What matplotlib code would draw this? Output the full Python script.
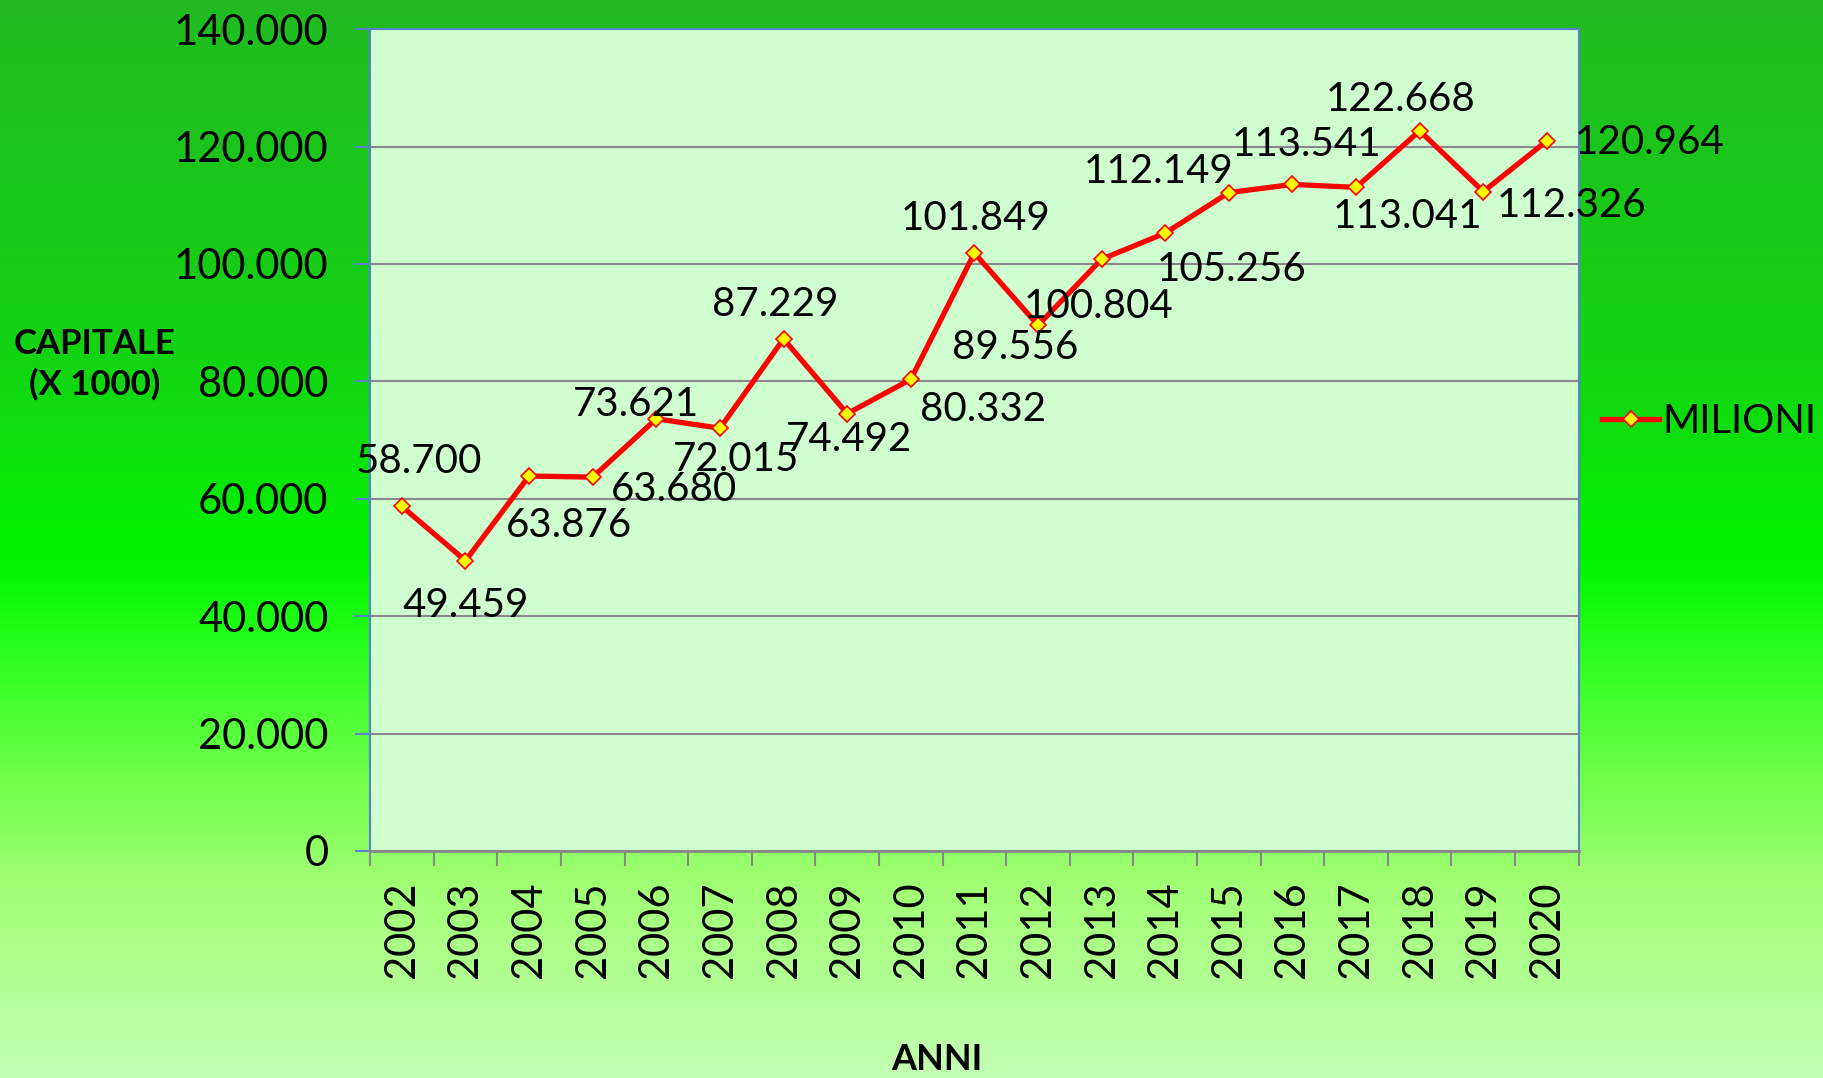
import numpy as np
import matplotlib
matplotlib.use("Agg")
import matplotlib.pyplot as plt
from matplotlib.colors import LinearSegmentedColormap

plt.rcParams["font.family"] = ["Lato", "DejaVu Sans"]

# =========================
# dati
# =========================
anni = ["2002", "2003", "2004", "2005", "2006", "2007", "2008", "2009", "2010", "2011",
        "2012", "2013", "2014", "2015", "2016", "2017", "2018", "2019", "2020"]
milioni = [58.700, 49.459, 63.876, 63.680, 73.621, 72.015, 87.229, 74.492, 80.332, 101.849,
           89.556, 100.804, 105.256, 112.149, 113.541, 113.041, 122.668, 112.326, 120.964]
etichette = ["58.700", "49.459", "63.876", "63.680", "73.621", "72.015", "87.229", "74.492",
             "80.332", "101.849", "89.556", "100.804", "105.256", "112.149", "113.541",
             "113.041", "122.668", "112.326", "120.964"]
y_ticks = [0, 20, 40, 60, 80, 100, 120, 140]
y_tick_labels = ["0", "20.000", "40.000", "60.000", "80.000", "100.000", "120.000", "140.000"]

# spostamento delle etichette (pixel)
offsets = [(17, 45), (0, -45), (40, -50), (81, -12), (-20, 14), (16, -31), (-8, 34),
           (2, -26), (72, -30), (1, 35), (-23, -22), (-3, -47), (66, -36), (-70, 21),
           (14, 40), (51, -29), (-19, 31), (88, -14), (103, -2)]

fig = plt.figure(figsize=(18.23, 10.78), dpi=100)

# sfondo sfumato
bg = fig.add_axes([0, 0, 1, 1], zorder=-10)
stops = [(0.0, (34, 187, 34)), (0.3, (20, 208, 20)), (0.42, (12, 225, 12)),
         (0.52, (0, 245, 0)), (0.6, (40, 255, 30)), (0.74, (120, 255, 80)),
         (0.82, (160, 255, 115)), (1.0, (195, 255, 180))]
cmap = LinearSegmentedColormap.from_list("bg", [(p, tuple(c / 255 for c in col)) for p, col in stops])
bg.imshow(np.linspace(0, 1, 256).reshape(-1, 1), aspect="auto", cmap=cmap, extent=[0, 1, 0, 1])
bg.axis("off")

ax = fig.add_axes([0.203, 0.2106, 0.663, 0.7624])
ax.set_facecolor("#CFFFCF")

x = np.arange(len(anni))
ax.plot(x, milioni, color="#FF0000", lw=3.8, marker="D", ms=8.5,
        markerfacecolor="#FFFF00", markeredgecolor="#FF0000", markeredgewidth=1.2,
        label="MILIONI", zorder=3, solid_joinstyle="miter")

for xi, v, lab, (dx, dy) in zip(x, milioni, etichette, offsets):
    ax.annotate(lab, (xi, v), xytext=(dx, dy), textcoords="offset pixels",
                ha="center", va="center", fontsize=29, color="black", zorder=5,
                annotation_clip=False)

ax.set_xlim(-0.5, len(anni) - 0.5)
ax.set_ylim(0, 140)
ax.set_yticks(y_ticks)
ax.set_yticklabels(y_tick_labels, fontsize=30)
ax.set_xticks(x)
ax.set_xticklabels(anni, rotation=90, fontsize=30)
ax.set_xticks(np.arange(-0.5, len(anni)), minor=True)
ax.tick_params(axis="x", which="major", length=0, pad=22)
ax.tick_params(axis="x", which="minor", length=11, width=1.5, color="#888888")
ax.tick_params(axis="y", length=11, width=1.5, color="#5A82C8", pad=19)

ax.yaxis.grid(True, color="#888888", lw=1.5)
ax.set_axisbelow(True)
for s in ["left", "top", "right"]:
    ax.spines[s].set_color("#5A82C8")
    ax.spines[s].set_linewidth(1.5)
ax.spines["bottom"].set_color("#888888")
ax.spines["bottom"].set_linewidth(2)

fig.text(0.052, 0.662, "CAPITALE\n(X 1000)", ha="center", va="center",
         fontsize=25, fontweight="bold", linespacing=1.3)
fig.text(0.514, 0.017, "ANNI", ha="center", va="center", fontsize=26, fontweight="bold")

fig.legend(loc="center left", bbox_to_anchor=(0.879, 0.609), frameon=False,
           fontsize=29, handlelength=1.4, handletextpad=0.1, borderaxespad=0,
           borderpad=0)

plt.savefig("out.png", dpi=100)
plt.close()
